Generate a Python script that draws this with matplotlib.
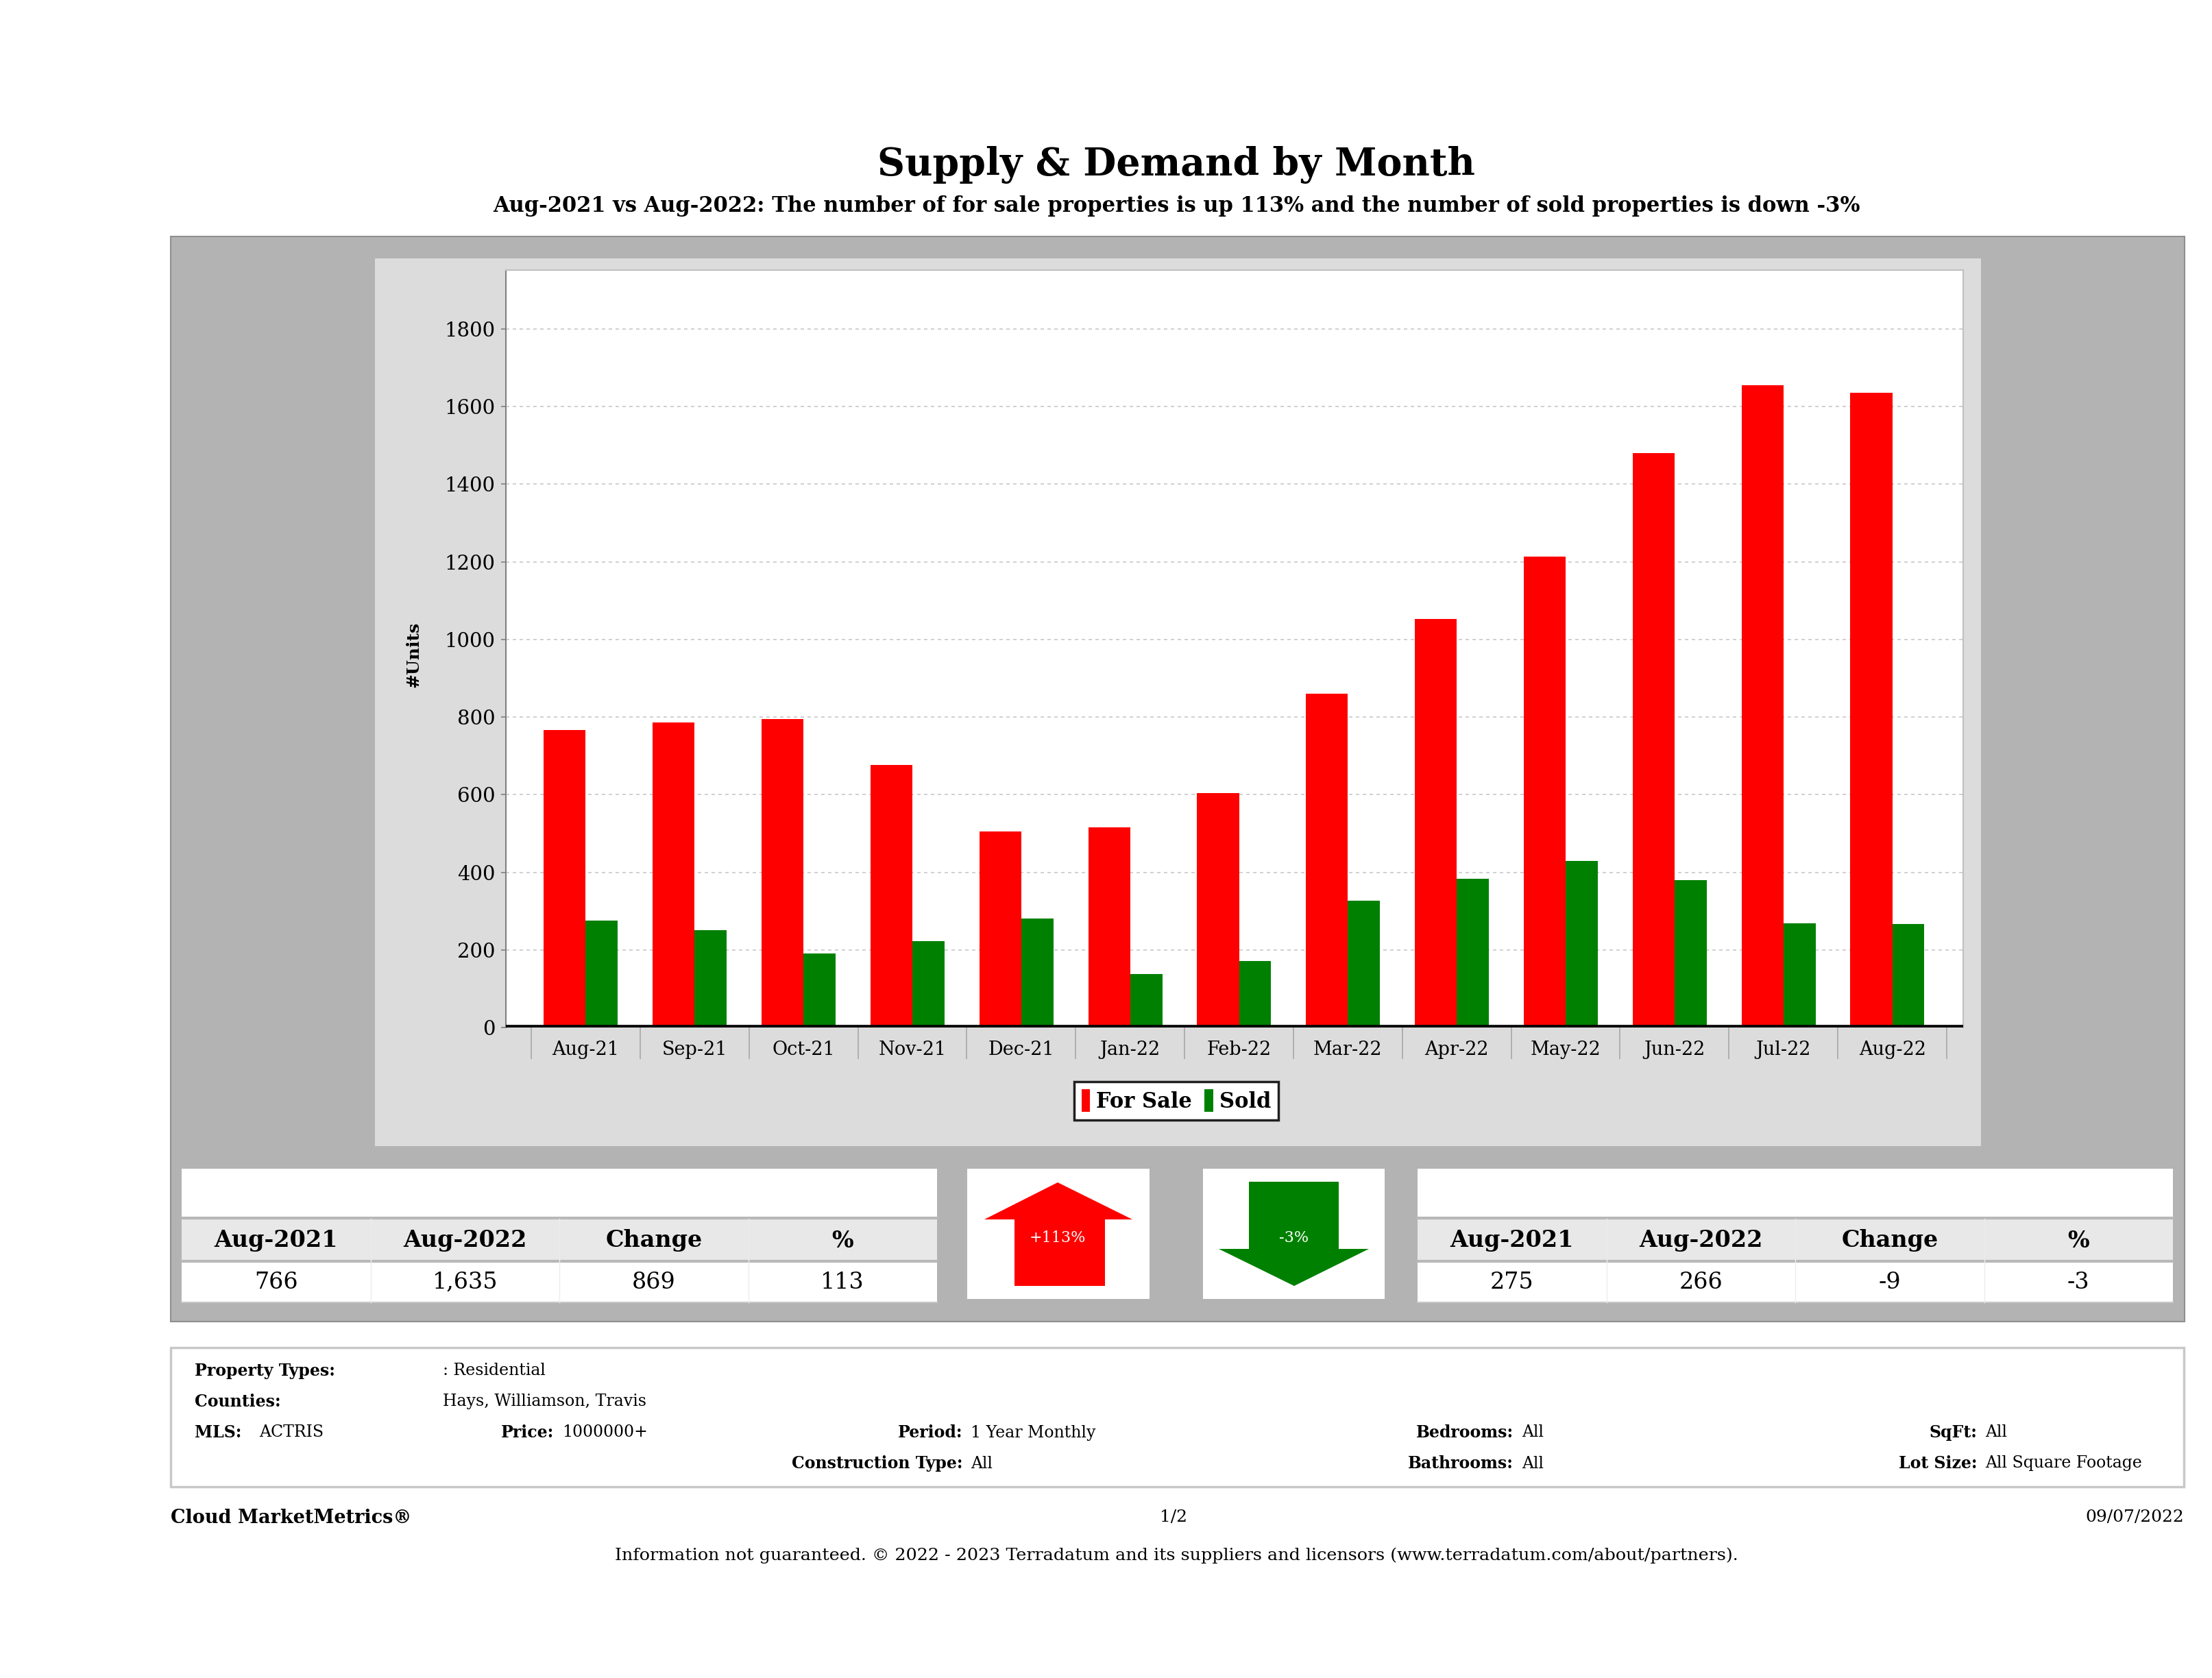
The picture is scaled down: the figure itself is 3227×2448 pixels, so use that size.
import matplotlib
matplotlib.use('Agg')
import matplotlib.pyplot as plt
from matplotlib.patches import Rectangle, Polygon
import numpy as np

months = ['Aug-21', 'Sep-21', 'Oct-21', 'Nov-21', 'Dec-21', 'Jan-22', 'Feb-22',
          'Mar-22', 'Apr-22', 'May-22', 'Jun-22', 'Jul-22', 'Aug-22']
for_sale = [766, 786, 795, 677, 505, 516, 604, 861, 1052, 1214, 1481, 1655, 1635]
sold = [275, 250, 191, 223, 281, 138, 172, 327, 383, 429, 380, 268, 266]
y_ticks = [0, 200, 400, 600, 800, 1000, 1200, 1400, 1600, 1800]

table_head = ['Aug-2021', 'Aug-2022', 'Change', '%']
sale_row = ['766', '1,635', '869', '113']
sold_row = ['275', '266', '-9', '-3']

W, H = 3227, 2448
plt.rcParams['font.family'] = 'DejaVu Serif'
fig = plt.figure(figsize=(W / 100, H / 100), dpi=100)

# page layer in pixel coords
bg = fig.add_axes([0, 0, 1, 1], zorder=0)
bg.set_xlim(0, W)
bg.set_ylim(H, 0)
bg.axis('off')

def rect(x0, y0, x1, y1, fc, ec='none', lw=0, z=1):
    bg.add_patch(Rectangle((x0, y0), x1 - x0, y1 - y0, facecolor=fc, edgecolor=ec, linewidth=lw, zorder=z))

bg.text(1716, 241, 'Supply & Demand by Month', ha='center', va='center', fontsize=40, fontweight='bold')
bg.text(1716, 300, 'Aug-2021 vs Aug-2022: The number of for sale properties is up 113% and the number of sold properties is down -3%',
        ha='center', va='center', fontsize=22, fontweight='bold')

# outer gray panel and chart panel
rect(249, 345, 3187, 1928, '#b3b3b3', '#8f8f8f', 1.5)
rect(547, 377, 2890, 1672, '#dcdcdc', z=2)

# tables
def table(x0, x1, row):
    y0, y1 = 1705, 1900
    rect(x0, y0, x1, y1, 'white', z=2)
    rect(x0, 1777, x1, 1839, '#e8e8e8', z=3)
    bg.plot([x0, x1], [1777, 1777], color='#b8b8b8', lw=3, zorder=4)
    bg.plot([x0, x1], [1840, 1840], color='#b8b8b8', lw=3, zorder=4)
    bg.plot([x0, x1], [y1, y1], color='#c8c8c8', lw=1.5, zorder=4)
    cw = (x1 - x0) / 4
    for i in range(4):
        cx = x0 + cw * (i + 0.5)
        if i > 0:
            bg.plot([x0 + cw * i] * 2, [1778, y1], color='#ececec', lw=1, zorder=4)
        bg.text(cx, 1810, table_head[i], ha='center', va='center', fontsize=24, fontweight='bold', zorder=5)
        bg.text(cx, 1871, row[i], ha='center', va='center', fontsize=24, zorder=5)

table(265, 1367, sale_row)
table(2068, 3170, sold_row)

# arrow boxes
rect(1411, 1705, 1677, 1895, 'white', z=2)
rect(1755, 1705, 2020, 1895, 'white', z=2)
up = [(1480, 1876), (1612, 1876), (1612, 1779), (1652, 1779), (1543, 1725), (1436, 1779), (1480, 1779)]
down = [(1822, 1724), (1953, 1724), (1953, 1822), (1997, 1822), (1888, 1876), (1778, 1822), (1822, 1822)]
bg.add_patch(Polygon(up, closed=True, facecolor='#ff0000', edgecolor='none', zorder=3))
bg.add_patch(Polygon(down, closed=True, facecolor='#008000', edgecolor='none', zorder=3))
bg.text(1543, 1806, '+113%', ha='center', va='center', fontsize=16, color='white', zorder=4)
bg.text(1888, 1806, '-3%', ha='center', va='center', fontsize=16, color='white', zorder=4)

# info box
rect(249, 1966, 3186, 2169, 'white', '#c8c8c8', 2.5)
fs = 17
def lab(x, y, s, v):
    bg.text(x, y, s, ha='right', va='center', fontsize=fs, fontweight='bold', zorder=3)
    bg.text(x + 12, y, v, ha='left', va='center', fontsize=fs, zorder=3)
bg.text(284, 2000, 'Property Types:', ha='left', va='center', fontsize=fs, fontweight='bold')
bg.text(646, 2000, ': Residential', ha='left', va='center', fontsize=fs)
bg.text(284, 2045, 'Counties:', ha='left', va='center', fontsize=fs, fontweight='bold')
bg.text(646, 2045, 'Hays, Williamson, Travis', ha='left', va='center', fontsize=fs)
bg.text(284, 2090, 'MLS:', ha='left', va='center', fontsize=fs, fontweight='bold')
bg.text(378, 2090, 'ACTRIS', ha='left', va='center', fontsize=fs)
lab(808, 2090, 'Price:', '1000000+')
lab(1404, 2090, 'Period:', '1 Year Monthly')
lab(1404, 2135, 'Construction Type:', 'All')
lab(2208, 2090, 'Bedrooms:', 'All')
lab(2208, 2135, 'Bathrooms:', 'All')
lab(2884, 2090, 'SqFt:', 'All')
lab(2884, 2135, 'Lot Size:', 'All Square Footage')

# footer
bg.text(249, 2214, 'Cloud MarketMetrics®', ha='left', va='center', fontsize=19.5, fontweight='bold')
bg.text(1712, 2214, '1/2', ha='center', va='center', fontsize=18)
bg.text(3186, 2214, '09/07/2022', ha='right', va='center', fontsize=18)
bg.text(1716, 2269, 'Information not guaranteed. © 2022 - 2023 Terradatum and its suppliers and licensors (www.terradatum.com/about/partners).',
        ha='center', va='center', fontsize=18.3)

bg.text(603, 955, '#Units', rotation=90, ha='center', va='center', fontsize=18, fontweight='bold', zorder=5)

# chart
px0, px1, py0, py1 = 738, 2864, 394, 1499
ax = fig.add_axes([px0 / W, 1 - py1 / H, (px1 - px0) / W, (py1 - py0) / H], zorder=2)
ax.set_facecolor('white')
x = np.arange(len(months))
rw, gw = 0.385, 0.295
b1 = ax.bar(x, for_sale, width=-rw, align='edge', color='#ff0000', zorder=3)
b2 = ax.bar(x, sold, width=gw, align='edge', color='#008000', zorder=3)
ax.set_xlim(-0.733, len(months) - 0.5 + 0.151)
ax.set_ylim(0, 1952)
ax.set_yticks(y_ticks)
ax.tick_params(axis='y', labelsize=21, length=5, width=1.2, color='#808080', pad=6)
ax.set_xticks(x)
ax.set_xticklabels(months)
ax.set_xticks(np.arange(len(months) + 1) - 0.5, minor=True)
ax.tick_params(axis='x', which='major', length=0, labelsize=19.5, pad=14)
ax.tick_params(axis='x', which='minor', length=33, width=1.2, color='#a8a8a8')
ax.grid(axis='y', color='#c8c8c8', linestyle=(0, (3, 3)), linewidth=1.2, zorder=0)
ax.set_axisbelow(True)
for s in ['top', 'right']:
    ax.spines[s].set_color('#c0c0c0')
    ax.spines[s].set_linewidth(1.5)
ax.spines['left'].set_color('#808080')
ax.spines['left'].set_linewidth(1.5)
ax.spines['bottom'].set_visible(False)
ax.axhline(0, color='black', linewidth=5.5, zorder=4)

fig.legend([b1, b2], ['For Sale', 'Sold'], loc='center', bbox_to_anchor=(1716 / W, 1 - 1606 / H),
           ncol=2, frameon=True, fancybox=False, edgecolor='#202020', framealpha=1,
           prop={'weight': 'bold', 'size': 22}, handlelength=0.4, handleheight=1.3,
           handletextpad=0.3, columnspacing=0.6, borderpad=0.35)
fig.legends[0].get_frame().set_linewidth(2.5)

fig.savefig('out.png', dpi=100)
